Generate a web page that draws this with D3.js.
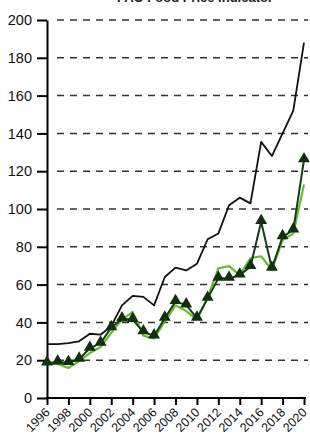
<!DOCTYPE html>
<html><head><meta charset="utf-8">
<script src="https://cdn.jsdelivr.net/npm/d3@7"></script>
<style>html,body{margin:0;padding:0;background:#fff;overflow:hidden}</style>
</head><body>
<svg id="c" width="310" height="437"></svg>
<script>
const years = d3.range(1996, 2021);
const blackSeries = [28.5,28.5,29,30,34,33.5,38,49,54,53.5,49,64,69,67.5,71,84,87,102,106,103,135.5,128,140,152,188];
const darkGreenSeries = [18.5,19,18.7,20.5,26.3,29,37.2,41.8,41.5,35,32.8,42.2,51,49.2,42.2,52.7,63.3,63.3,65,69.5,93.3,68.6,85.3,88.9,126];
const lightGreenSeries = [18.5,18,15.9,19.5,23.8,27,34.5,41.5,45.5,33,31.5,40.4,49,46,41.5,53,68.6,69.8,65,74,75,67.7,83.6,87,113];
const yTicks = [0,20,40,60,80,100,120,140,160,180,200];
const xTicks = d3.range(1996, 2021, 2);
const titleText = "FAO Food Price Indicator";

const svg = d3.select("#c");
const x = d3.scaleLinear().domain([1996, 2020]).range([47, 304]);
const y = d3.scaleLinear().domain([0, 200]).range([398, 20]);

svg.append("text").attr("x", 195).attr("y", 2).attr("text-anchor","middle")
  .attr("font-family","Liberation Sans, Arial, sans-serif").attr("font-weight","bold")
  .attr("font-size",13).attr("fill","#222").text(titleText);

// grid
svg.append("g").selectAll("line").data(yTicks.filter(d=>d>0)).join("line")
  .attr("x1", 57).attr("x2", 308).attr("y1", d=>y(d)).attr("y2", d=>y(d))
  .attr("stroke","#333").attr("stroke-width",1.5).attr("stroke-dasharray","7,6");

// y axis
const ya = svg.append("g").attr("transform","translate(47,0)")
  .call(d3.axisLeft(y).tickValues(yTicks).tickSize(10).tickSizeOuter(0).tickPadding(5));
ya.selectAll("path,line").attr("stroke","#000").attr("stroke-width",2);
ya.selectAll("text").attr("font-family","Liberation Sans, Arial, sans-serif").attr("font-size",14.5).attr("fill","#111");

// x axis
const xa = svg.append("g").attr("transform","translate(0,398)")
  .call(d3.axisBottom(x).tickValues(xTicks).tickFormat(d3.format("d")).tickSize(7).tickSizeOuter(0));
xa.select(".domain").attr("d","M46,0H306");
xa.selectAll("path,line").attr("stroke","#000").attr("stroke-width",2);
xa.selectAll("text").attr("font-family","Liberation Sans, Arial, sans-serif").attr("font-size",12.5).attr("fill","#111")
  .attr("text-anchor","end").attr("dy","0.35em").attr("y",0)
  .attr("transform","translate(0,12) rotate(-45)");

const line = d3.line().x((d,i)=>x(years[i])).y(d=>y(d));
svg.append("path").datum(lightGreenSeries).attr("d", line).attr("fill","none")
  .attr("stroke","#63bf2c").attr("stroke-width",2.2).attr("stroke-linejoin","round");
svg.append("path").datum(darkGreenSeries).attr("d", line).attr("fill","none")
  .attr("stroke","#163d14").attr("stroke-width",2).attr("stroke-linejoin","round");
svg.append("path").datum(blackSeries).attr("d", line).attr("fill","none")
  .attr("stroke","#111").attr("stroke-width",1.8).attr("stroke-linejoin","round");
const tri = d3.symbol().type(d3.symbolTriangle).size(62);
svg.append("g").selectAll("path").data(darkGreenSeries).join("path")
  .attr("d", tri).attr("transform",(d,i)=>`translate(${x(years[i])},${y(d)-1})`)
  .attr("fill","#10300e");
</script>
</body></html>
